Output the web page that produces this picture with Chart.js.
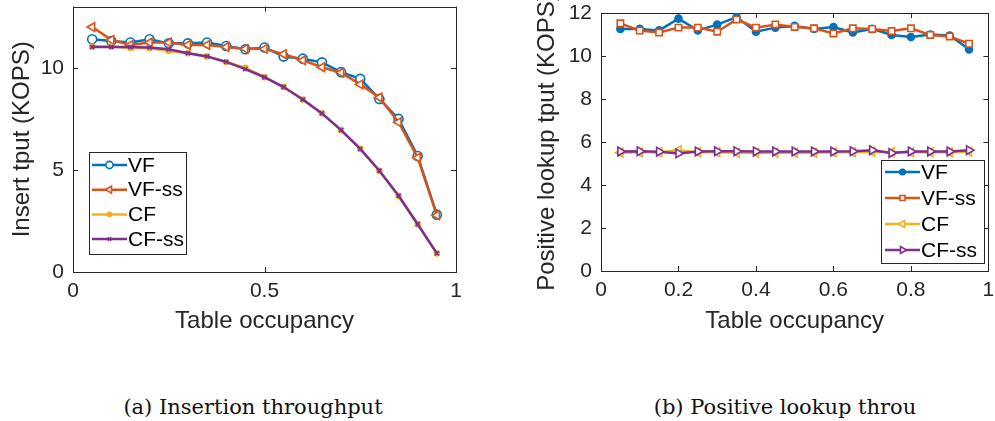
<!DOCTYPE html>
<html>
<head>
<meta charset="utf-8">
<script src="https://cdn.jsdelivr.net/npm/chart.js@4.4.1/dist/chart.umd.min.js"></script>
<style>
  html, body { margin: 0; padding: 0; background: #fff; overflow: hidden; }
  #wrap { position: relative; width: 995px; height: 421px; }
  .panel { position: absolute; top: 0; height: 345px; }
  .caption {
    position: absolute; top: 395px; transform: translateX(-50%);
    font-family: "DejaVu Serif", serif; font-size: 21px; line-height: 24px;
    color: #111; white-space: nowrap;
  }
</style>
</head>
<body>
<div id="wrap">
  <div class="panel" style="left:0; width:495px;"><canvas id="insert-chart" width="495" height="345"></canvas></div>
  <div class="panel" style="left:495px; width:500px;"><canvas id="lookup-chart" width="500" height="345"></canvas></div>
  <div class="caption" style="left:253px;">(a) Insertion throughput</div>
  <div class="caption" style="left:785px;">(b) Positive lookup throu</div>
</div>
<script>
const occupancy = [0.05, 0.1, 0.15, 0.2, 0.25, 0.3, 0.35, 0.4, 0.45, 0.5,
                   0.55, 0.6, 0.65, 0.7, 0.75, 0.8, 0.85, 0.9, 0.95];

// (a) insertion throughput, KOPS
const insertVF   = [11.40, 11.31, 11.24, 11.40, 11.20, 11.20, 11.24, 11.07, 10.91, 11.00,
                    10.56, 10.45, 10.27, 9.79, 9.46, 8.48, 7.50, 5.68, 2.81];
const insertVFss = [12.00, 11.37, 11.12, 11.24, 11.24, 11.12, 11.12, 11.02, 10.93, 10.93,
                    10.67, 10.37, 10.03, 9.76, 9.19, 8.55, 7.34, 5.60, 2.78];
const insertCF   = [11.05, 11.05, 10.97, 10.96, 10.83, 10.72, 10.56, 10.29, 10.00, 9.54,
                    9.06, 8.45, 7.77, 6.95, 6.03, 4.96, 3.73, 2.34, 0.91];
const insertCFss = [11.02, 11.02, 11.02, 11.00, 10.91, 10.72, 10.56, 10.29, 9.94, 9.54,
                    9.06, 8.45, 7.77, 6.95, 6.03, 4.96, 3.73, 2.34, 0.91];

// (b) positive lookup throughput, KOPS
const lookupVF   = [11.26, 11.26, 11.19, 11.74, 11.19, 11.46, 11.81, 11.13, 11.32, 11.40,
                    11.26, 11.35, 11.09, 11.26, 10.98, 10.88, 11.00, 10.95, 10.31];
const lookupVFss = [11.52, 11.18, 11.09, 11.32, 11.32, 11.13, 11.70, 11.32, 11.47, 11.35,
                    11.29, 11.05, 11.29, 11.26, 11.16, 11.29, 10.98, 10.91, 10.57];
const lookupCF   = [5.50, 5.52, 5.52, 5.62, 5.52, 5.52, 5.50, 5.50, 5.50, 5.50,
                    5.50, 5.52, 5.52, 5.55, 5.52, 5.52, 5.52, 5.52, 5.55];
const lookupCFss = [5.56, 5.57, 5.55, 5.47, 5.56, 5.57, 5.57, 5.56, 5.56, 5.56,
                    5.56, 5.56, 5.57, 5.62, 5.49, 5.56, 5.56, 5.56, 5.62];

const insertXTicks = [0, 0.5, 1];
const insertYTicks = [0, 5, 10];
const lookupXTicks = [0, 0.2, 0.4, 0.6, 0.8, 1];
const lookupYTicks = [0, 2, 4, 6, 8, 10, 12];

const BLUE = '#0072BD', ORANGE = '#D95319', YELLOW = '#EDB120', PURPLE = '#7E2F8E';
const INK = '#262626';
const SANS = '"Liberation Sans", Arial, sans-serif';

function points(values) {
    return occupancy.map((x, i) => ({ x: x, y: values[i] }));
}

function series(label, values, color, marker, order) {
    return Object.assign({
        label: label,
        data: points(values),
        borderColor: color,
        backgroundColor: color,
        borderWidth: 2.5,
        pointBorderColor: color,
        pointBorderWidth: 1.6,
        order: order,
        tension: 0
    }, marker);
}

// box around the axes with inward tick marks, like matlab
const matlabAxes = {
    id: 'matlabAxes',
    beforeDatasetsDraw(chart) {
        const { ctx, chartArea: a, scales } = chart;
        const len = 5;
        ctx.save();
        ctx.strokeStyle = INK;
        ctx.lineWidth = 1;
        ctx.beginPath();
        scales.x.ticks.forEach(t => {
            const px = Math.round(scales.x.getPixelForValue(t.value)) + 0.5;
            ctx.moveTo(px, a.bottom); ctx.lineTo(px, a.bottom - len);
            ctx.moveTo(px, a.top); ctx.lineTo(px, a.top + len);
        });
        scales.y.ticks.forEach(t => {
            const py = Math.round(scales.y.getPixelForValue(t.value)) + 0.5;
            ctx.moveTo(a.left, py); ctx.lineTo(a.left + len, py);
            ctx.moveTo(a.right, py); ctx.lineTo(a.right - len, py);
        });
        ctx.stroke();
        ctx.strokeRect(Math.round(a.left) + 0.5, Math.round(a.top) + 0.5,
                       Math.round(a.right - a.left), Math.round(a.bottom - a.top));
        ctx.restore();
    }
};

// legend box placed inside the axes
const boxLegend = {
    id: 'boxLegend',
    afterDraw(chart, args, opts) {
        const ctx = chart.ctx;
        ctx.save();
        ctx.fillStyle = '#fff';
        ctx.fillRect(opts.left, opts.top, opts.width, opts.height);
        ctx.strokeStyle = INK;
        ctx.lineWidth = 1;
        ctx.strokeRect(opts.left + 0.5, opts.top + 0.5, opts.width, opts.height);
        ctx.font = '21px ' + SANS;
        ctx.textBaseline = 'middle';
        chart.data.datasets.forEach((ds, i) => {
            const y = opts.firstRow + i * opts.rowGap;
            ctx.strokeStyle = ds.borderColor;
            ctx.lineWidth = ds.borderWidth;
            ctx.beginPath();
            ctx.moveTo(opts.lineFrom, y);
            ctx.lineTo(opts.lineTo, y);
            ctx.stroke();
            ctx.fillStyle = ds.pointBackgroundColor || ds.borderColor;
            ctx.strokeStyle = ds.borderColor;
            ctx.lineWidth = ds.pointBorderWidth;
            Chart.helpers.drawPoint(ctx, {
                pointStyle: ds.pointStyle,
                radius: ds.pointRadius * 0.8,
                rotation: ds.pointRotation || 0,
                borderWidth: ds.pointBorderWidth
            }, (opts.lineFrom + opts.lineTo) / 2, y);
            ctx.fillStyle = '#000';
            ctx.fillText(ds.label, opts.textX, y + 1);
        });
        ctx.restore();
    }
};

function axes(xTicks, yTicks, yMax, yTitle, yTitlePad, xHeight, yWidth) {
    const tickFont = { family: SANS, size: 21 };
    const titleFont = { family: SANS, size: 24 };
    return {
        x: {
            type: 'linear', min: 0, max: 1,
            afterBuildTicks: s => { s.ticks = xTicks.map(v => ({ value: v })); },
            afterFit: s => { s.height = xHeight; s.paddingLeft = 0; s.paddingRight = 0; },
            grid: { display: false, drawTicks: false },
            border: { display: false },
            ticks: { font: tickFont, color: INK, padding: 7, maxRotation: 0,
                     callback: v => String(v) },
            title: { display: true, text: 'Table occupancy', font: titleFont, color: INK,
                     padding: { top: 9, bottom: 9 } }
        },
        y: {
            type: 'linear', min: 0, max: yMax,
            afterBuildTicks: s => { s.ticks = yTicks.map(v => ({ value: v })); },
            afterFit: s => { s.width = yWidth; s.paddingTop = 0; s.paddingBottom = 0; },
            grid: { display: false, drawTicks: false },
            border: { display: false },
            ticks: { font: tickFont, color: INK, padding: 9, callback: v => String(v) },
            title: { display: true, text: yTitle, font: titleFont, color: INK,
                     padding: { top: yTitlePad, bottom: yTitlePad } }
        }
    };
}

const hollow = '#fff';

new Chart(document.getElementById('insert-chart'), {
    type: 'line',
    data: {
        datasets: [
            series('VF', insertVF, BLUE,
                { pointStyle: 'circle', pointRadius: 4.5, pointBackgroundColor: hollow }, 4),
            series('VF-ss', insertVFss, ORANGE,
                { pointStyle: 'triangle', pointRadius: 5, pointRotation: -90, pointBackgroundColor: hollow }, 3),
            series('CF', insertCF, YELLOW,
                { pointStyle: 'circle', pointRadius: 2.5, pointBackgroundColor: YELLOW }, 2),
            series('CF-ss', insertCFss, PURPLE,
                { pointStyle: 'crossRot', pointRadius: 3, pointBackgroundColor: PURPLE }, 1)
        ]
    },
    options: {
        responsive: false,
        animation: false,
        events: [],
        layout: { padding: { left: 5, top: 1, right: 39, bottom: 0 } },
        scales: axes(insertXTicks, insertYTicks, 13, 'Insert tput (KOPS)', 3, 73, 68),
        plugins: {
            legend: { display: false },
            tooltip: { enabled: false },
            boxLegend: { left: 89, top: 152, width: 97, height: 102,
                         firstRow: 165, rowGap: 24.7, lineFrom: 92, lineTo: 127, textX: 128 }
        }
    },
    plugins: [matlabAxes, boxLegend]
});

new Chart(document.getElementById('lookup-chart'), {
    type: 'line',
    data: {
        datasets: [
            series('VF', lookupVF, BLUE,
                { pointStyle: 'circle', pointRadius: 3.5, pointBackgroundColor: BLUE }, 4),
            series('VF-ss', lookupVFss, ORANGE,
                { pointStyle: 'rect', pointRadius: 4.5, pointBackgroundColor: hollow }, 3),
            series('CF', lookupCF, YELLOW,
                { pointStyle: 'triangle', pointRadius: 5, pointRotation: -90, pointBackgroundColor: hollow }, 2),
            series('CF-ss', lookupCFss, PURPLE,
                { pointStyle: 'triangle', pointRadius: 5, pointRotation: 90, pointBackgroundColor: hollow }, 1)
        ]
    },
    options: {
        responsive: false,
        animation: false,
        events: [],
        layout: { padding: { left: 34, top: 13, right: 3, bottom: 0 } },
        scales: axes(lookupXTicks, lookupYTicks, 12, 'Positive lookup tput (KOPS)', 4, 74, 72),
        plugins: {
            legend: { display: false },
            tooltip: { enabled: false },
            boxLegend: { left: 386, top: 160, width: 103, height: 103,
                         firstRow: 172, rowGap: 26, lineFrom: 390, lineTo: 425, textX: 426 }
        }
    },
    plugins: [matlabAxes, boxLegend]
});
</script>
</body>
</html>
